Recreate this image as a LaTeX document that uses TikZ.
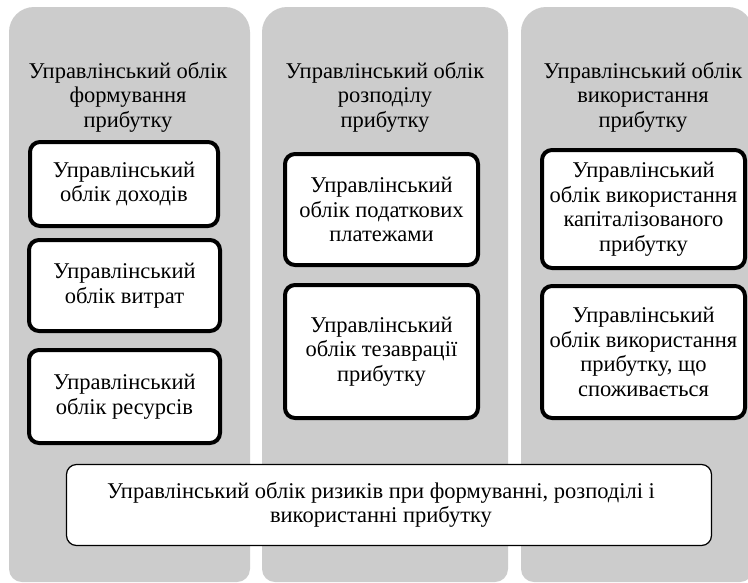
\documentclass[tikz,border=0pt]{standalone}
\usepackage{fontspec}
\setmainfont{Liberation Serif}
\definecolor{panelgray}{HTML}{CCCCCC}
\begin{document}
\begin{tikzpicture}[x=1pt,y=-1pt,
  txt/.style={align=center,font=\fontsize{22.5}{24.5}\selectfont,inner sep=0pt},
  thickbox/.style={txt,draw=black,line width=4pt,fill=white,rounded corners=10pt},
  thinbox/.style={txt,draw=black,line width=1.2pt,fill=white,rounded corners=10pt}]
\useasboundingbox (0,0) rectangle (748,582);
\fill[white] (0,0) rectangle (748,582);
% panels
\foreach \l/\r in {9/250, 262/508, 521/753}{
  \fill[panelgray] (\l,300) [rounded corners=25pt] -- (\l,7) -- (\r,7) -- (\r,300)
     [rounded corners=13pt] -- (\r,582) -- (\l,582) -- cycle;
}
% titles
\node[txt] (t1) at (128,97) {Управлінський облік\\формування\hspace*{0.9em}\\прибутку};
\node[txt] (t2) at (385,97) {Управлінський облік\\розподілу\hspace*{1em}\\прибутку};
\node[txt] (t3) at (643,97) {Управлінський облік\\використання\hspace*{1.1em}\\прибутку};
% column 1
\node[thickbox,minimum width=188pt,minimum height=84pt] (a1) at (124,184) {Управлінський\\облік доходів};
\node[thickbox,minimum width=191pt,minimum height=91pt] (a2) at (124.5,285.5) {Управлінський\\облік витрат};
\node[thickbox,minimum width=191pt,minimum height=93pt] (a3) at (124.5,396.5) {Управлінський\\облік ресурсів};
% column 2
\node[thickbox,minimum width=193pt,minimum height=111pt] (b1) at (381.5,209.5) {Управлінський\\облік податкових\\платежами};
\node[thickbox,minimum width=193pt,minimum height=133pt] (b2) at (381.5,351.5) {Управлінський\\облік тезаврації\\прибутку};
% column 3
\node[thickbox,minimum width=203pt,minimum height=118pt] (c1) at (643.5,209) {Управлінський\\облік використання\\капіталізованого\\прибутку};
\node[thickbox,minimum width=203pt,minimum height=132pt] (c2) at (643.5,352) {Управлінський\\облік використання\\прибутку, що\\споживається};
% bottom
\node[thinbox,minimum width=645pt,minimum height=81pt] (d) at (389,505) {Управлінський облік ризиків при формуванні, розподілі і\hspace*{16pt}\\використанні прибутку\hspace*{16pt}};
\end{tikzpicture}
\end{document}
